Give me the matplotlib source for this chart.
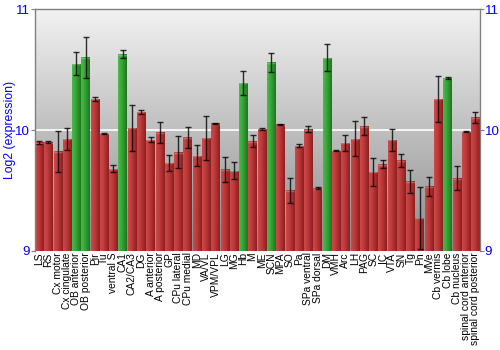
import numpy as np
import matplotlib
matplotlib.use("Agg")
import matplotlib.pyplot as plt
from matplotlib.colors import LinearSegmentedColormap

plt.rcParams['font.family'] = ['Liberation Sans', 'DejaVu Sans']

regions = [
    "LS", "RS", "Cx motor", "Cx cingulate", "OB anterior", "OB posterior",
    "Pir", "Tu", "ventral S", "CA1", "CA2/CA3", "DG", "A anterior",
    "A posterior", "GP", "CPu lateral", "CPu medial", "MD", "VA/VL",
    "VPM/VPL", "LG", "MG", "Hb", "M", "ME", "SCN", "MPA", "SO", "Pa",
    "SPa ventral", "SPa dorsal", "DM", "VMH", "Arc", "LH", "PAG", "SC", "IC",
    "VTA", "SN", "Tg", "Pn", "MVe", "Cb vermis", "Cb lobe", "Cb nucleus",
    "spinal cord anterior", "spinal cord posterior",
]
expression = [
    9.898, 9.898, 9.826, 9.928, 10.548, 10.600,
    10.260, 9.970, 9.680, 10.628, 10.020, 10.150, 9.920,
    9.980, 9.730, 9.817, 9.940, 9.787, 9.934,
    10.055, 9.676, 9.665, 10.390, 9.909, 10.010, 10.560, 10.047, 9.500, 9.870,
    10.008, 9.520, 10.598, 9.828, 9.895, 9.928, 10.033, 9.654, 9.718,
    9.920, 9.748, 9.577, 9.275, 9.535, 10.257, 10.430, 9.600,
    9.986, 10.105,
]
errors = [
    0.010, 0.008, 0.170, 0.090, 0.095, 0.170,
    0.017, 0.006, 0.028, 0.030, 0.190, 0.017, 0.022,
    0.087, 0.066, 0.130, 0.087, 0.088, 0.185,
    0.006, 0.105, 0.073, 0.100, 0.050, 0.006, 0.080, 0.005, 0.100, 0.011,
    0.023, 0.005, 0.114, 0.003, 0.065, 0.144, 0.075, 0.115, 0.036,
    0.090, 0.057, 0.094, 0.255, 0.077, 0.190, 0.005, 0.100,
    0.003, 0.047,
]
highlighted = ["OB anterior", "OB posterior", "CA1", "Hb", "SCN", "DM", "Cb lobe"]
y_ticks = [9, 10, 11]

fig = plt.figure(figsize=(5, 3.5), dpi=100)
ax = fig.add_axes([0.069, 0.283, 0.891, 0.691])

y_min, y_max = 9, 11
x = np.arange(len(regions))
ax.set_xlim(-0.5, len(regions) - 0.5)
ax.set_ylim(y_min, y_max)

# vertical grey gradient behind the bars
bg = LinearSegmentedColormap.from_list("bg", ["#8c8c8c", "#f2f2f2"])
ax.imshow(np.linspace(0, 1, 256).reshape(-1, 1), cmap=bg, aspect="auto",
          origin="lower", extent=[0, 1, 0, 1], transform=ax.transAxes,
          zorder=0, interpolation="bicubic")

ax.axhline(10, color="white", lw=1.2, zorder=1)

red_cm = LinearSegmentedColormap.from_list("red", ["#cc4a4a", "#b83636", "#8a1f1f"])
green_cm = LinearSegmentedColormap.from_list("green", ["#4cbb4c", "#33a033", "#1d761d"])

bars = ax.bar(x, np.array(expression) - y_min, bottom=y_min, width=0.9,
              color="none", edgecolor="none", zorder=2)
grad = np.linspace(0, 1, 64).reshape(1, -1)
for name, rect in zip(regions, bars):
    cm = green_cm if name in highlighted else red_cm
    x0 = rect.get_x()
    w = rect.get_width()
    top = rect.get_y() + rect.get_height()
    im = ax.imshow(grad, cmap=cm, aspect="auto",
                   extent=[x0, x0 + w, y_min, top], zorder=2,
                   interpolation="bilinear")
    im.set_clip_path(rect)
    # lighter rim along the top of each bar
    ax.plot([x0, x0 + w], [top - 0.004, top - 0.004],
            color="white", alpha=0.25, lw=1, zorder=3,
            solid_capstyle="butt")

ax.errorbar(x, expression, yerr=errors, fmt="none", ecolor="black",
            elinewidth=1, capsize=2, capthick=1, alpha=0.8, zorder=4)

ax.set_xticks(x)
ax.set_xticklabels(regions, rotation=90, fontsize=7.4)
ax.tick_params(axis="x", length=0, pad=1)

ax.set_yticks(y_ticks)
ax.tick_params(axis="y", colors="#808080", labelcolor="blue", labelsize=9.6,
               length=3, left=True, right=True, labelleft=True,
               labelright=True, pad=0.5)
ax.set_ylabel("Log2 (expression)", color="blue", fontsize=8.8)
ax.yaxis.set_label_coords(-0.041, 0.5)

for side in ["top", "right", "left", "bottom"]:
    ax.spines[side].set_color("#808080")
    ax.spines[side].set_linewidth(1)
ax.spines["bottom"].set_visible(False)

fig.savefig("out.png", dpi=100)
